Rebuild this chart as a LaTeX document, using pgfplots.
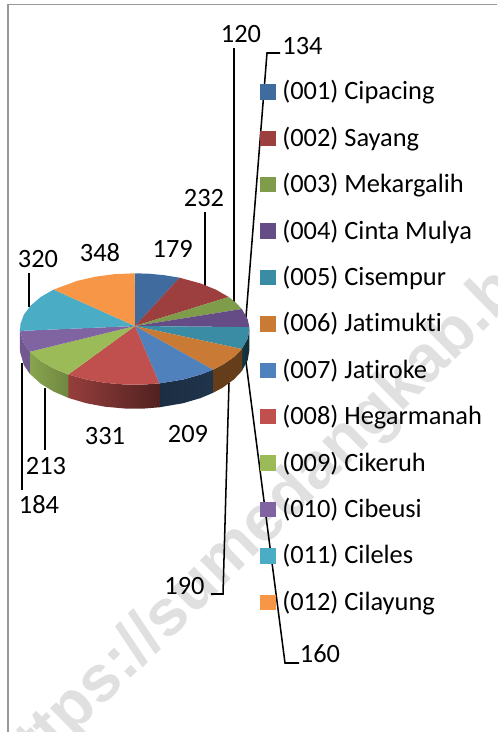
\documentclass[border=0pt]{standalone}
\usepackage{pgfplots}
\pgfplotsset{compat=1.18}
\usepackage{fontspec}
\setmainfont[Ligatures=NoCommon]{Carlito}
\definecolor{c1}{HTML}{3F6B9E}
\definecolor{c2}{HTML}{9C3F3E}
\definecolor{c3}{HTML}{7F9C4A}
\definecolor{c4}{HTML}{654C87}
\definecolor{c5}{HTML}{398CA3}
\definecolor{c6}{HTML}{C97B36}
\definecolor{c7}{HTML}{4F81BD}
\definecolor{c8}{HTML}{C0504D}
\definecolor{c9}{HTML}{9BBB59}
\definecolor{c10}{HTML}{8064A2}
\definecolor{c11}{HTML}{4BACC6}
\definecolor{c12}{HTML}{F79646}
\newcommand\legrow[4]{%
  \addplot[only marks,mark=square*,mark size=5.4pt,mark options={draw=#1,fill=#1,line width=0.3pt}] coordinates {(#2,#3)};
  \node[anchor=base west,inner sep=0pt] at (axis cs:282,#3+8.2) {#4};}
\newcommand\val[3]{\node[anchor=base,inner sep=0pt] at (axis cs:#1,#2+1) {#3};}
\begin{document}
\begin{tikzpicture}
\clip (0,0) rectangle (372.75pt,549pt);
\begin{axis}[
  at={(0,0)},anchor=south west,
  scale only axis,width=372.75pt,height=549pt,
  xmin=0,xmax=497,ymin=0,ymax=732,y dir=reverse,
  hide axis,clip=false,
  font=\fontsize{19.8}{20}\selectfont,
]
% page frame
\addplot[color=black!40,line width=1.2pt] coordinates {(8,732) (8,4.5) (497,4.5)};
% leader lines
\addplot[black,line width=1.15pt] coordinates {(205,212) (205,287)};
\addplot[black,line width=1.15pt] coordinates {(234,48) (234,302)};
\addplot[black,line width=1.15pt] coordinates {(280,53) (267,53) (246,317)};
\addplot[black,line width=1.15pt] coordinates {(29,273) (29,307)};
\addplot[black,line width=1.15pt] coordinates {(22,363) (22,490)};
\addplot[black,line width=1.15pt] coordinates {(45,388) (45,450)};
\addplot[black,line width=1.15pt] coordinates {(211,594) (223,594) (229,383)};
\addplot[black,line width=1.15pt] coordinates {(246,362) (285,663) (299,663)};
% pie sides
\addplot[draw=none,left color=c5!40!black,right color=c5!30!black] coordinates {(249.4,329) (247.7,338.7) (241.8,349) (241.8,371.1) (247.7,360.2) (249.4,350)} --cycle;
\addplot[draw=none,fill=c6!50!black] coordinates {(241.8,349) (234,356.9) (222.6,364.8) (212.9,369.7) (212.9,392.9) (222.6,387.7) (234,379.4) (241.8,371.1)} --cycle;
\addplot[draw=none,left color=c7!35!black,right color=c7!40!black] coordinates {(212.9,369.7) (200.5,374.6) (183.2,379.5) (159.3,383.4) (159.3,407.3) (183.2,403.2) (200.5,398.1) (212.9,392.9)} --cycle;
\addplot[draw=none,left color=c8!78!black,right color=c8!42!black] coordinates {(159.3,383.4) (144.7,384.5) (124.7,384.5) (105,382.8) (86.2,379.5) (68.4,374.5) (68.4,397.9) (86.2,403.2) (105,406.7) (124.7,408.5) (144.7,408.5) (159.3,407.3)} --cycle;
\addplot[draw=none,left color=c9!88!black,right color=c9!72!black] coordinates {(68.4,374.5) (53.6,368.4) (40.7,361) (29.9,351.7) (29.9,373.9) (40.7,383.7) (53.6,391.5) (68.4,397.9)} --cycle;
\addplot[draw=none,fill=c10!88!black] coordinates {(29.9,351.7) (23.9,343.4) (20.1,330.9) (20,329) (20,350) (20.1,352) (23.9,365.2) (29.9,373.9)} --cycle;
% pie top, one wedge per village
\addplot[draw=none,fill=c1] coordinates {(135,326) (134.7,273.3) (148.7,273.7) (164.4,275.2) (179.5,277.7)} --cycle;
\addplot[draw=none,fill=c2] coordinates {(135,326) (179.5,277.7) (200.5,283.4) (215.8,289.6) (228.7,297)} --cycle;
\addplot[draw=none,fill=c3] coordinates {(135,326) (228.7,297) (236,302.8) (241.8,309)} --cycle;
\addplot[draw=none,fill=c4] coordinates {(135,326) (241.8,309) (247.7,319.3) (249.3,327.1)} --cycle;
\addplot[draw=none,fill=c5] coordinates {(135,326) (249.3,327.1) (249.4,329) (247.7,338.7) (241.8,349)} --cycle;
\addplot[draw=none,fill=c6] coordinates {(135,326) (241.8,349) (234,356.9) (222.6,364.8) (212.9,369.7)} --cycle;
\addplot[draw=none,fill=c7] coordinates {(135,326) (212.9,369.7) (200.5,374.6) (183.2,379.5) (159.3,383.4)} --cycle;
\addplot[draw=none,fill=c8] coordinates {(135,326) (159.3,383.4) (144.7,384.5) (124.7,384.5) (105,382.8) (86.2,379.5) (68.4,374.5)} --cycle;
\addplot[draw=none,fill=c9] coordinates {(135,326) (68.4,374.5) (53.6,368.4) (40.7,361) (29.9,351.7)} --cycle;
\addplot[draw=none,fill=c10] coordinates {(135,326) (29.9,351.7) (23.9,343.4) (20.1,330.9)} --cycle;
\addplot[draw=none,fill=c11] coordinates {(135,326) (20.1,330.9) (20.4,324.1) (23.9,314.6) (30.8,305.5) (40.7,297) (53.6,289.6)} --cycle;
\addplot[draw=none,fill=c12] coordinates {(135,326) (53.6,289.6) (77.4,280.8) (95.5,276.7) (114.8,274.1) (134.7,273.3)} --cycle;
% legend
\legrow{c1}{267.5}{91.5}{(001) Cipacing}
\legrow{c2}{267.5}{138}{(002) Sayang}
\legrow{c3}{267.5}{184.4}{(003) Mekargalih}
\legrow{c4}{267.5}{230.8}{(004) Cinta Mulya}
\legrow{c5}{267.5}{277.2}{(005) Cisempur}
\legrow{c6}{267.5}{323.6}{(006) Jatimukti}
\legrow{c7}{267.5}{370}{(007) Jatiroke}
\legrow{c8}{267.5}{416.4}{(008) Hegarmanah}
\legrow{c9}{267.5}{462.8}{(009) Cikeruh}
\legrow{c10}{267.5}{509.2}{(010) Cibeusi}
\legrow{c11}{267.5}{555.6}{(011) Cileles}
\legrow{c12}{267.5}{602}{(012) Cilayung}
% value labels
\val{172.7}{256}{179}
\val{204}{205}{232}
\val{241}{41.7}{120}
\val{302.5}{53.3}{134}
\val{100}{260}{348}
\val{38}{266}{320}
\val{105}{443}{331}
\val{188}{441}{209}
\val{46}{473}{213}
\val{39}{512}{184}
\val{184.5}{593.3}{190}
\val{320}{661}{160}
% watermark
\node[anchor=base west,inner sep=0pt,rotate=44.5,text=black,text opacity=0.12,font=\fontfamily{}\fontsize{49}{49}\selectfont\setmainfont{Liberation Sans}\bfseries] at (axis cs:12,795) {https://sumedangkab.bps.go.id};
\end{axis}
\end{tikzpicture}
\end{document}
